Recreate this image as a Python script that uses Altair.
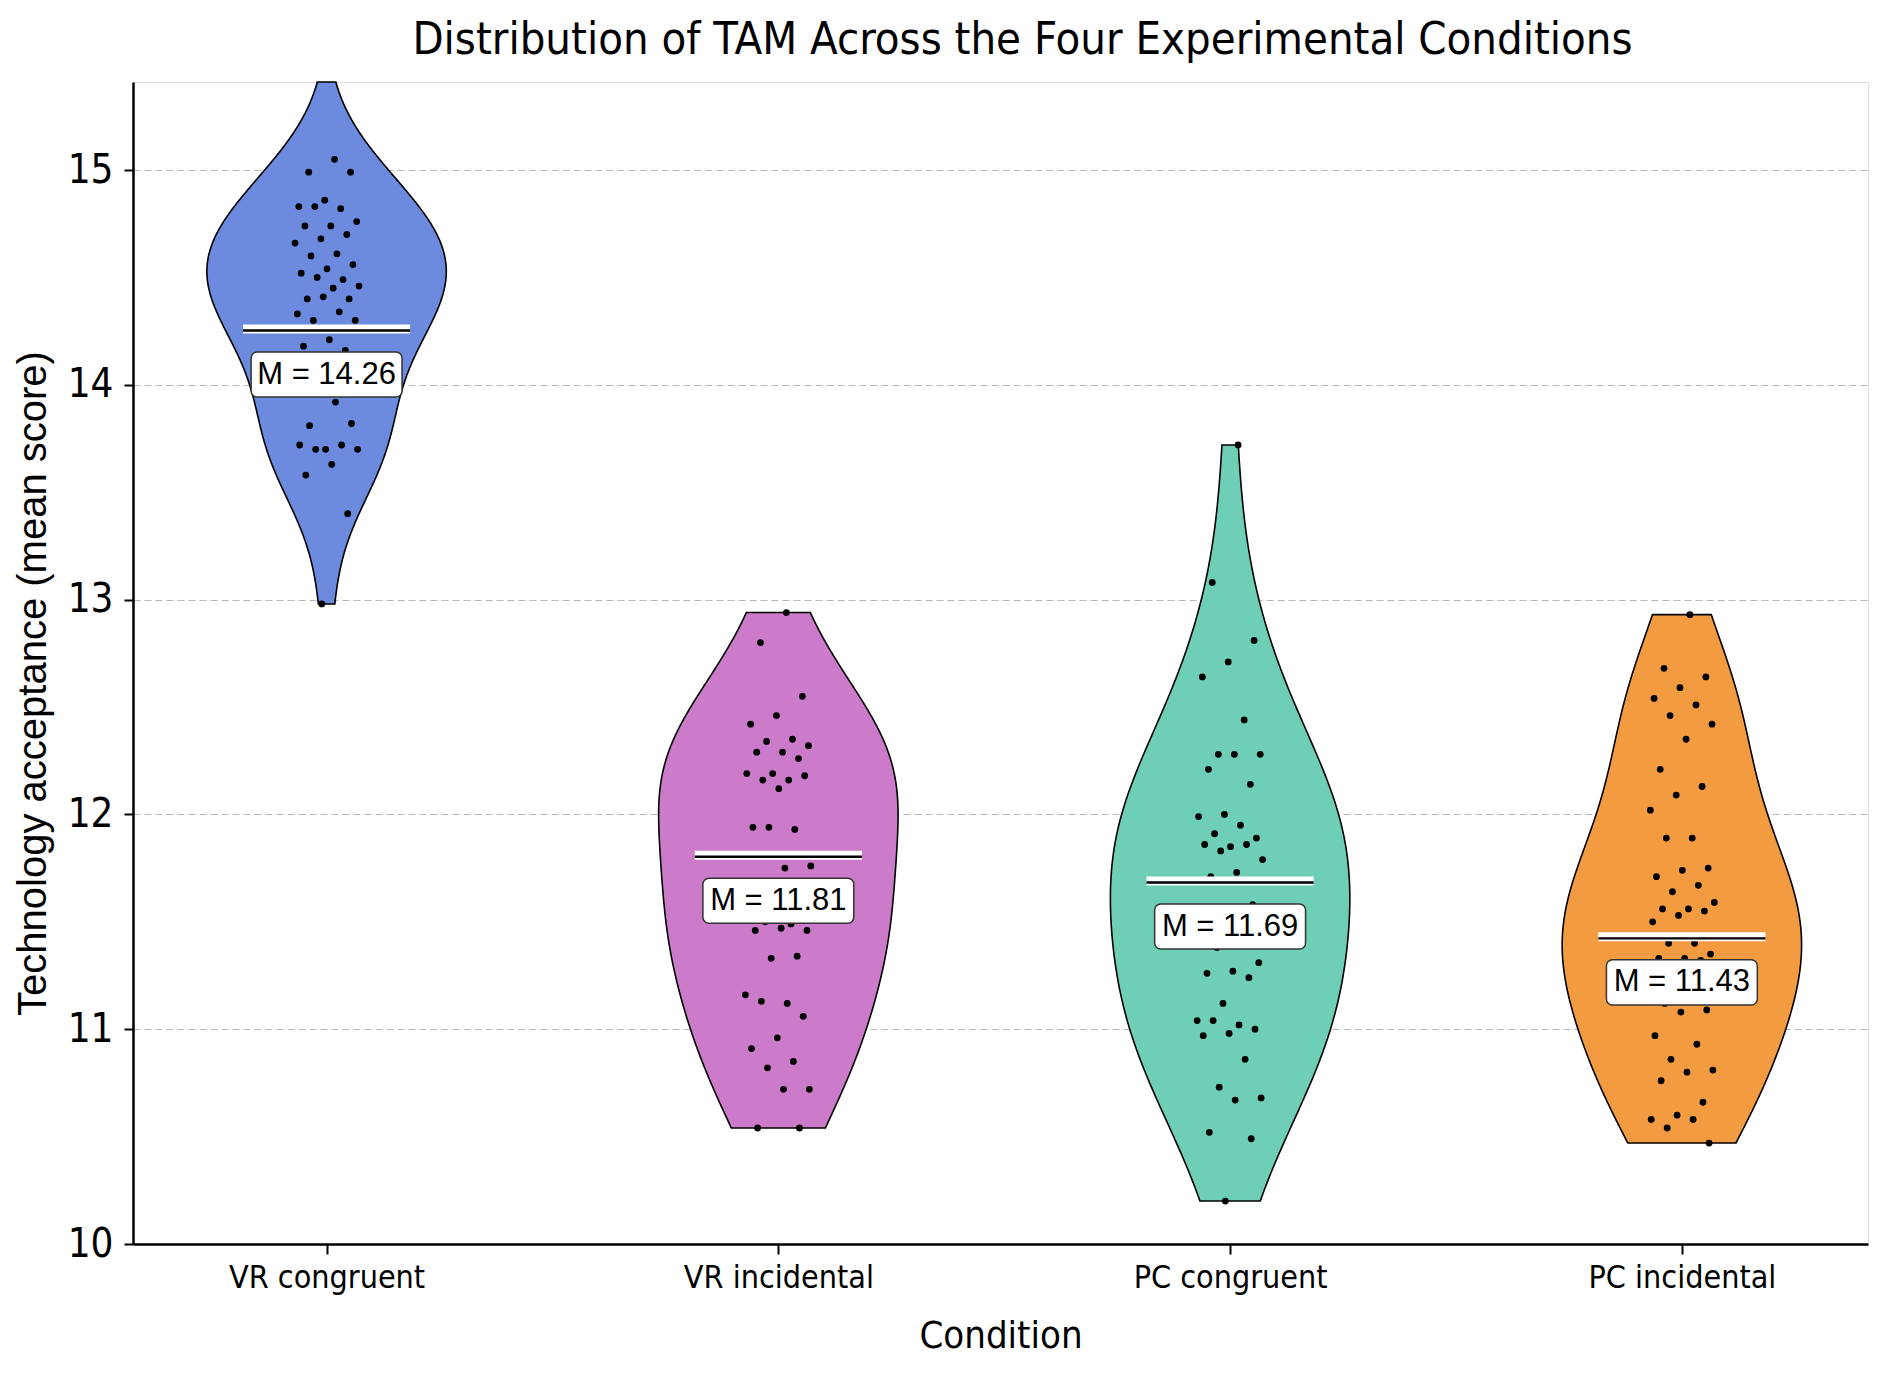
import altair as alt
import numpy as np
import pandas as pd

conditions = ["VR congruent", "VR incidental", "PC congruent", "PC incidental"]
colors = ["#6C8BDE", "#CC7BCB", "#6FCEB6", "#F39B40"]
means = [14.26, 11.81, 11.69, 11.43]
violin_lo = [12.98, 10.54, 10.20, 10.47]
violin_hi = [15.41, 12.94, 13.72, 12.93]

vr_congruent = [15.05, 14.99, 14.99, 14.86, 14.83, 14.82, 14.83, 14.76, 14.74, 14.74,
                14.70, 14.68, 14.66, 14.61, 14.60, 14.56, 14.54, 14.52, 14.49, 14.50,
                14.46, 14.45, 14.40, 14.40, 14.41, 14.33, 14.34, 14.30, 14.30, 14.21,
                14.18, 14.16, 14.08, 14.03, 13.92, 13.81, 13.82, 13.70, 13.72, 13.72,
                13.70, 13.70, 13.63, 13.58, 13.40, 12.98]
vr_incidental = [12.94, 12.80, 12.55, 12.46, 12.42, 12.35, 12.34, 12.32, 12.29, 12.29,
                 12.26, 12.19, 12.19, 12.16, 12.16, 12.18, 12.12, 11.94, 11.93, 11.94,
                 11.76, 11.75, 11.66, 11.62, 11.58, 11.55, 11.49, 11.50, 11.46, 11.47,
                 11.46, 11.34, 11.33, 11.16, 11.12, 11.13, 11.06, 10.96, 10.91, 10.85,
                 10.82, 10.72, 10.72, 10.54, 10.54]
pc_congruent = [13.72, 13.08, 12.81, 12.71, 12.64, 12.44, 12.28, 12.28, 12.28, 12.21,
                12.14, 12.00, 11.99, 11.95, 11.91, 11.89, 11.85, 11.86, 11.86, 11.83,
                11.79, 11.73, 11.71, 11.58, 11.52, 11.46, 11.42, 11.38, 11.31, 11.27,
                11.26, 11.24, 11.12, 11.04, 11.02, 11.04, 11.00, 10.98, 10.97, 10.86,
                10.73, 10.68, 10.67, 10.52, 10.49, 10.20]
pc_incidental = [12.93, 12.68, 12.64, 12.59, 12.54, 12.51, 12.46, 12.42, 12.35, 12.21,
                 12.13, 12.09, 12.02, 11.89, 11.89, 11.75, 11.74, 11.71, 11.67, 11.64,
                 11.59, 11.56, 11.56, 11.55, 11.53, 11.50, 11.40, 11.40, 11.35, 11.33,
                 11.33, 11.32, 11.26, 11.21, 11.17, 11.12, 11.09, 11.08, 10.97, 10.93,
                 10.86, 10.81, 10.80, 10.76, 10.66, 10.60, 10.58, 10.58, 10.54, 10.47]

series = [vr_congruent, vr_incidental, pc_congruent, pc_incidental]

rows = []
for i, (c, vals) in enumerate(zip(conditions, series)):
    for v in vals:
        rows.append({"cond": c, "idx": i, "value": v})
df = pd.DataFrame(rows)

mdf = pd.DataFrame({"cond": conditions, "idx": list(range(4)), "mean": means,
                    "label": [f"M = {m:.2f}" for m in means]})

NARROW = "Liberation Sans Narrow, DejaVu Sans Condensed, sans-serif"
REG = "Liberation Sans, Arial, sans-serif"

xscale = alt.Scale(domain=[-0.4285, 3.412], nice=False, zero=False)
yscale = alt.Scale(domain=[10, 15.41], nice=False, zero=False)

label_expr = ("datum.value == 0 ? 'VR congruent' : datum.value == 1 ? 'VR incidental' : "
              "datum.value == 2 ? 'PC congruent' : 'PC incidental'")

xaxis = alt.Axis(values=[0, 1, 2, 3], labelExpr=label_expr, grid=False,
                 title="Condition", titleFont=NARROW, titleFontSize=38,
                 titleFontWeight="normal", titleColor="black", titlePadding=24,
                 labelFont=NARROW, labelFontSize=32, labelColor="black",
                 labelLimit=0, labelPadding=8, tickSize=10, tickColor="black",
                 tickWidth=2, domainColor="black", domainWidth=2.5)
yaxis = alt.Axis(values=[10, 11, 12, 13, 14, 15], format="d", grid=True,
                 gridDash=[7, 4], gridColor="#b8b8b8", gridWidth=1.2,
                 title="Technology acceptance (mean score)", titleFont=REG,
                 titleFontSize=40, titleFontWeight="normal", titleColor="black",
                 titlePadding=14, titleY=601, labelFont=NARROW, labelFontSize=40,
                 labelColor="black", labelPadding=11, tickSize=9,
                 tickColor="black", tickWidth=2, domainColor="black",
                 domainWidth=2.5)

HALF = 0.265
layers = []
for i, c in enumerate(conditions):
    vals = np.array(series[i])
    bw = float(1.25 * np.std(vals, ddof=1) * len(vals) ** (-0.2))
    v = (
        alt.Chart(df)
        .transform_filter(alt.datum.cond == c)
        .transform_density("value", as_=["v", "dens"], extent=[violin_lo[i], violin_hi[i]],
                           steps=250, bandwidth=bw)
        .transform_joinaggregate(maxd="max(dens)")
        .transform_calculate(xa=f"{i} - datum.dens / datum.maxd * {HALF}",
                             xb=f"{i} + datum.dens / datum.maxd * {HALF}")
        .mark_area(orient="horizontal", fill=colors[i], fillOpacity=1,
                   stroke="black", strokeWidth=1.6)
        .encode(y=alt.Y("v:Q", scale=yscale, axis=yaxis),
                x=alt.X("xa:Q", scale=xscale, axis=xaxis),
                x2="xb:Q")
    )
    layers.append(v)

points = (
    alt.Chart(df)
    .transform_window(rn="row_number()", groupby=["cond"])
    .transform_calculate(jx="datum.idx + ((datum.rn * 0.6180339887) % 1 - 0.5) * 0.15")
    .mark_circle(size=46, color="black", opacity=1)
    .encode(x=alt.X("jx:Q", scale=xscale), y=alt.Y("value:Q", scale=yscale))
)

base_m = alt.Chart(mdf).transform_calculate(
    xa="datum.idx - 0.185", xb="datum.idx + 0.185",
    bxa="datum.idx - 0.167", bxb="datum.idx + 0.167",
    ly="datum.mean - 0.212", lya="datum.mean - 0.212 - 0.105",
    lyb="datum.mean - 0.212 + 0.105")

white_rule = base_m.mark_rule(color="white", strokeWidth=9).encode(
    x=alt.X("xa:Q", scale=xscale), x2="xb:Q", y=alt.Y("mean:Q", scale=yscale))
black_rule = base_m.mark_rule(color="black", strokeWidth=2.4, yOffset=1.5).encode(
    x=alt.X("xa:Q", scale=xscale), x2="xb:Q", y=alt.Y("mean:Q", scale=yscale))
boxes = base_m.mark_rect(fill="white", stroke="#333333", strokeWidth=1.5,
                         cornerRadius=6).encode(
    x=alt.X("bxa:Q", scale=xscale), x2="bxb:Q",
    y=alt.Y("lya:Q", scale=yscale), y2="lyb:Q")
texts = base_m.mark_text(font=REG, fontSize=31, color="black", baseline="middle",
                         align="center").encode(
    x=alt.X("idx:Q", scale=xscale), y=alt.Y("ly:Q", scale=yscale), text="label:N")

chart = (
    alt.layer(*layers, points, white_rule, black_rule, boxes, texts)
    .properties(
        width=1735, height=1162,
        title=alt.TitleParams("Distribution of TAM Across the Four Experimental Conditions",
                              font=NARROW, fontSize=45, fontWeight="normal",
                              color="black", anchor="middle", dx=22, offset=16),
        padding={"left": 125, "top": 74, "right": 14, "bottom": 130},
        autosize=alt.AutoSizeParams(type="none"),
    )
    .configure_view(stroke=None)
    .configure(background="white")
)

chart.save("out.html", embed_options={"renderer": "svg", "actions": False})
